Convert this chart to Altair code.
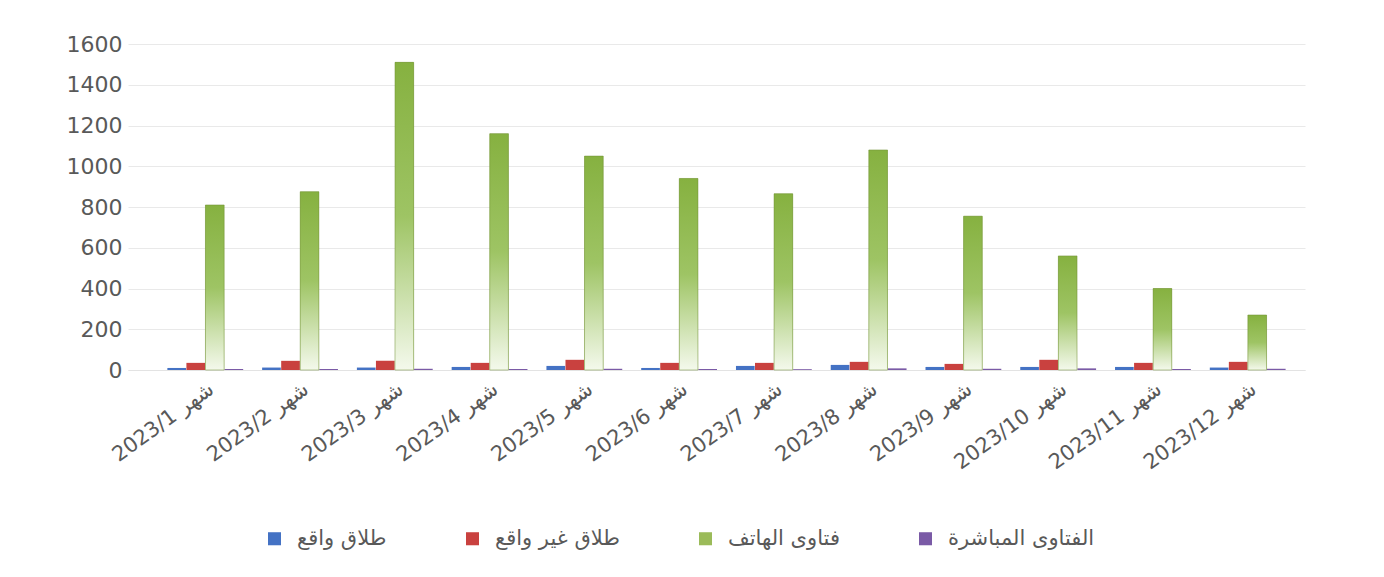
import altair as alt
import pandas as pd

months = ["شهر 2023/1", "شهر 2023/2", "شهر 2023/3", "شهر 2023/4", "شهر 2023/5", "شهر 2023/6",
          "شهر 2023/7", "شهر 2023/8", "شهر 2023/9", "شهر 2023/10", "شهر 2023/11", "شهر 2023/12"]
series = ["طلاق واقع", "طلاق غير واقع", "فتاوى الهاتف", "الفتاوى المباشرة"]
colors = ["#4472c4", "#c9413f", "#9bbb59", "#7a5aa6"]

divorce_valid = [10, 12, 12, 15, 20, 10, 20, 25, 15, 15, 15, 12]
divorce_invalid = [35, 45, 45, 35, 50, 35, 35, 40, 30, 50, 35, 40]
phone_fatwa = [810, 875, 1510, 1160, 1050, 940, 865, 1080, 755, 560, 400, 270]
direct_fatwa = [5, 5, 6, 5, 6, 5, 4, 8, 6, 8, 5, 6]

values = [divorce_valid, divorce_invalid, phone_fatwa, direct_fatwa]
rows = []
for s, vals in zip(series, values):
    for m, v in zip(months, vals):
        rows.append({"month": m, "series": s, "value": v})
df = pd.DataFrame(rows)

FONT = "DejaVu Sans"
TXT = "#595959"

x_enc = alt.X("month:N", sort=months,
              scale=alt.Scale(paddingInner=0.2, paddingOuter=0.31, align=0.67),
              axis=alt.Axis(title=None, labelAngle=-36, labelFontSize=21, labelColor=TXT,
                            labelFont=FONT, ticks=False, domainColor="#e3e3e3",
                            labelPadding=8, labelLimit=300))
xoff = alt.XOffset("series:N", sort=series, scale=alt.Scale(domain=series, paddingInner=0.02))
y_enc = alt.Y("value:Q", scale=alt.Scale(domain=[0, 1600]),
              axis=alt.Axis(title=None, values=list(range(0, 1601, 200)), format="d",
                            labelFontSize=22, labelColor=TXT, labelFont=FONT, ticks=False,
                            domain=False, gridColor="#e9e9e9", labelPadding=6))

base = alt.Chart(df).mark_bar().encode(
    x=x_enc, xOffset=xoff, y=y_enc,
    color=alt.Color("series:N", sort=series, scale=alt.Scale(domain=series, range=colors),
                    legend=alt.Legend(title=None, orient="none", direction="horizontal",
                                      legendX=136, legendY=484, symbolType="square",
                                      symbolSize=170, labelFontSize=21, labelColor=TXT,
                                      labelFont=FONT, columnPadding=75, labelOffset=12,
                                      labelLimit=400)),
)

green = alt.Chart(df).transform_filter(alt.datum.series == "فتاوى الهاتف").mark_bar(
    color=alt.Gradient(gradient="linear",
                       stops=[alt.GradientStop(color="#86b140", offset=0),
                              alt.GradientStop(color="#9ec464", offset=0.5),
                              alt.GradientStop(color="#f4f9ec", offset=1)],
                       x1=0, x2=0, y1=0, y2=1),
    stroke="#6f8f33", strokeWidth=1, strokeOpacity=0.5,
).encode(x=x_enc, xOffset=xoff, y=y_enc)

chart = alt.layer(base, green).properties(
    width=1177, height=326,
    autosize=alt.AutoSizeParams(type="none"),
    padding={"left": 120, "top": 36, "right": 71, "bottom": 199},
    background="white",
).configure_view(stroke=None)

chart.save("out.html", embed_options={"renderer": "svg", "actions": False})
